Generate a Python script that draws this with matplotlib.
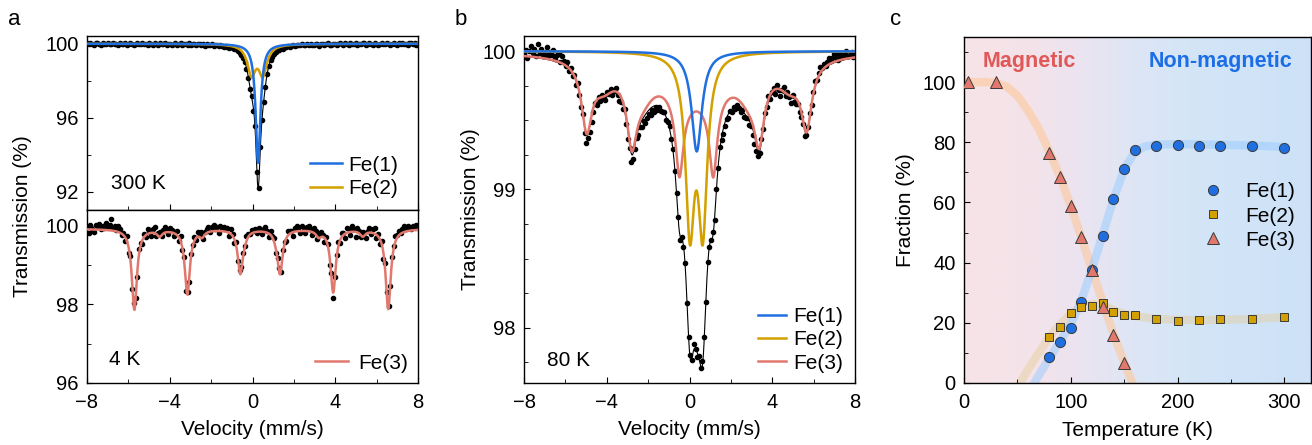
import numpy as np
import matplotlib
matplotlib.use("Agg")
import matplotlib.pyplot as plt
from matplotlib.colors import LinearSegmentedColormap
from matplotlib.ticker import MultipleLocator
from matplotlib.lines import Line2D

plt.rcParams['font.family'] = ['Liberation Sans', 'DejaVu Sans']
plt.rcParams['font.size'] = 15
plt.rcParams['axes.linewidth'] = 1.0
plt.rcParams['xtick.direction'] = 'in'
plt.rcParams['ytick.direction'] = 'in'
plt.rcParams['xtick.major.size'] = 4.5
plt.rcParams['ytick.major.size'] = 4.5
plt.rcParams['xtick.minor.size'] = 3
plt.rcParams['ytick.minor.size'] = 3
plt.rcParams['xtick.labelsize'] = 14.5
plt.rcParams['ytick.labelsize'] = 14.5
plt.rcParams['xtick.major.pad'] = 7
plt.rcParams['ytick.major.pad'] = 6

C_FE1 = '#1f6fe0'
C_FE2 = '#d4a000'
C_FE3 = '#e0786e'

# ---- Moessbauer fit parameters (mm/s, % absorption) ----
# 300 K
FE1_300K_POS = [0.27]
FE1_300K_DEPTH = [6.45]
FE1_300K_HW = [0.14]
FE2_300K_POS = [-0.05, 0.50]
FE2_300K_DEPTH = [1.57, 1.57]
FE2_300K_HW = [0.24, 0.24]
# 4 K
FE3_4K_BASE = 99.92
FE3_4K_POS = [-5.71, -3.15, -0.59, 1.33, 3.90, 6.56]
FE3_4K_DEPTH = [2.05, 1.65, 1.10, 1.10, 1.60, 2.03]
FE3_4K_HW = [0.15, 0.15, 0.15, 0.15, 0.15, 0.15]
FE3_4K_MINOR_POS = [-4.49, -2.44, -0.39, 1.14, 3.20, 5.33]
FE3_4K_MINOR_DEPTH = [0.15, 0.15, 0.10, 0.10, 0.15, 0.15]
FE3_4K_MINOR_HW = [0.15, 0.15, 0.15, 0.15, 0.15, 0.15]
# 80 K
FE1_80K_POS = [0.35]
FE1_80K_DEPTH = [0.725]
FE1_80K_HW = [0.30]
FE2_80K_POS = [0.02, 0.64]
FE2_80K_DEPTH = [1.22, 1.22]
FE2_80K_HW = [0.26, 0.26]
FE3_80K_POS = [-4.97, -2.79, -0.49, 1.15, 3.37, 5.66]
FE3_80K_DEPTH = [0.46, 0.44, 0.53, 0.53, 0.42, 0.45]
FE3_80K_HW = [0.30, 0.28, 0.22, 0.22, 0.28, 0.30]
FE3_80K_BROAD_POS = [-4.17, -2.32, -0.37, 1.03, 2.91, 4.86]
FE3_80K_BROAD_DEPTH = [0.17, 0.20, 0.12, 0.12, 0.20, 0.17]
FE3_80K_BROAD_HW = [0.70, 0.70, 0.70, 0.70, 0.70, 0.70]
FE3_80K_CENTER_POS = [0.33]
FE3_80K_CENTER_DEPTH = [0.20]
FE3_80K_CENTER_HW = [2.5]

# scatter of the measured points about the fit, in 0.01 %
RES_300K = [3, -2, 5, 0, -4, 2, 6, -1, -5, 3, 1, -3, 4, -2, 0, 5,
            -3, 2, -5, 4, 1, -2, 6, -4, 0, 3, -1, -6, 2, 5, -3, 1,
            4, -2, 0, -5, 3, 2, -4, 6, -1, -3, 5, 0, -2, 4, -6, 2,
            1, -4, 3, 5, -2, -1, 4, -5, 2, 0, -3, 6, -2, 1, 3, -4,
            0, 5, -3, 2, -6, 3, 1, -2, 4, -4, 2, -1, -5, 3, 0, -3,
            4, -2, -5, 1, -3, -4, 2, -4, -5, -3, -6, -4, -8, -10, -8, 6,
            -18, 15, -15, -10, 12, -6, -9, -7, -5, -6, -3, -5, -4, -2, 1, -3,
            2, -4, 3, -1, 5, -3, 0, 4, -5, 2, 1, -2, 6, -3, -1, 4,
            -2, 5, 0, -4, 3, 1, -6, 2, 4, -3, 0, 5, -2, -5, 3, 1,
            -4, 2, 6, -1, -3, 4, 0, -5, 3, 2, -2, 5, -4, 1, -1, 3,
            5, -3, 0, 4, -2, -6, 3, 1, -4, 2, 5, -1, -3, 4, 0, -5,
            2, 6, -2, -4, 3, 0, 5, -3, 1, -5, 4, 2, -1, 3, -4, 1]
RES_4K = [5, -8, 10, 2, -6, 12, 8, 15, 3, 10, 6, 18, 9, 14, 30, 7,
          12, 4, 16, 9, -4, 6, -10, 12, -15, 8, -20, 10, 5, -12, 14, 6,
          -10, 8, -6, 12, 3, -8, 10, 15, -5, 6, 12, -3, 8, 14, 4, -6,
          10, 6, -8, 4, 12, -10, 14, -6, 9, -25, 5, -12, 8, 3, 10, -5,
          12, 6, 15, -4, 8, 10, 14, -2, 12, 16, 5, 9, -6, 14, 8, 12,
          6, 10, -8, 12, 5, -10, 8, -12, 4, 10, 12, 6, 14, 8, 3, 10,
          5, 8, -4, 10, 6, -6, 8, 12, 4, -8, 10, 3, 9, -10, 6, 12,
          -8, 10, 5, -6, 12, 8, 4, -10, 9, 14, 6, -4, 12, 8, -6, 10,
          14, 5, -8, 12, 8, -5, 10, 12, 4, -10, 8, 6, -20, 10, -14, 6,
          8, 12, -6, 10, 4, -10, 12, 8, -8, 14, 6, -12, 10, 5, -6, 12,
          8, -10, 6, 12, -4, 10, 15, -8, 6, -12, 8, -18, 14, 10, 5, -4,
          10, 6, 14, 8, 12, 3, 10, 16, 6, 12, 9, 4, 11, 7, 13, 5]
RES_80K = [2, 5, -1, 4, 8, 3, 6, 1, 10, 4, 7, 2, 5, 9, 3, 6,
           4, 8, 2, 5, 7, 1, 6, 3, 0, 4, -1, 2, -2, 1, -3, 2,
           -1, -3, 1, -4, -6, -3, -5, -4, -2, 1, -3, 2, -1, 3, 0, -2,
           3, 1, 4, -1, 2, 4, 0, -3, -2, -4, 1, -3, -5, -2, -6, -4,
           -3, -1, -4, -2, -5, -3, -6, -4, -3, -5, -2, -4, -1, -3, 0, -2,
           -1, 1, -2, 0, 2, -1, 1, -2, 0, 2, -3, 1, -1, 2, -2, 1,
           3, -2, 4, 0, -3, 2, -1, 3, 1, -2, 2, -1, 0, 3, -2, 1,
           -1, 2, -2, -4, -3, -1, -3, 0, -2, 1, -1, 2, 0, -2, 1, -3,
           -2, 0, -3, -1, -4, -6, -5, -3, -1, 2, 0, 3, 1, 4, -1, 2,
           3, -2, 4, 1, -3, 2, 5, -1, 3, 0, -4, 2, -2, -3, -1, -4,
           -3, -2, -4, -1, 1, 3, 0, 2, 4, 1, 3, 5, 2, 4, 1, 3,
           5, 2, 4, 6, 3, 1, 5, 2, 4, 3, 6, 2, 3, 5, 1, 4]

# ---- Phase fractions vs temperature ----
T_FE1 = [80, 90, 100, 110, 120, 130, 140, 150, 160, 180, 200, 220, 240, 270, 300]
F_FE1 = [8.6, 13.6, 18.4, 26.8, 37.5, 48.8, 61.0, 71.1, 77.5, 78.8, 79.2, 78.9, 78.7, 78.7, 78.2]
T_FE2 = [80, 90, 100, 110, 120, 130, 140, 150, 160, 180, 200, 220, 240, 270, 300]
F_FE2 = [15.2, 18.5, 23.2, 25.1, 25.6, 26.5, 23.5, 22.6, 22.5, 21.2, 20.7, 20.8, 21.2, 21.2, 21.8]
T_FE3 = [4, 30, 80, 90, 100, 110, 120, 130, 140, 150]
F_FE3 = [100, 100, 76.4, 68.4, 58.7, 48.4, 37.5, 25.1, 16.0, 6.6]
# guide-to-the-eye curves
T_FE1_GUIDE = [64, 70, 80, 90, 100, 110, 120, 130, 140, 150, 160, 170, 180, 200, 220, 250, 280, 302]
F_FE1_GUIDE = [-1, 2.5, 8.3, 13.8, 19.5, 27.5, 38, 49.5, 61, 71, 76.8, 78.7, 79.2, 79.4, 79.3, 79.1, 78.8, 78.4]
T_FE2_GUIDE = [51, 60, 70, 80, 90, 100, 110, 120, 130, 140, 150, 160, 180, 200, 220, 240, 270, 302]
F_FE2_GUIDE = [-1, 4.5, 10, 15.3, 19.5, 23, 25.3, 26.3, 25.8, 24.2, 23, 22.2, 21.3, 21, 20.9, 21, 21.3, 21.9]
T_FE3_GUIDE = [0, 20, 30, 40, 50, 60, 70, 80, 90, 100, 110, 120, 130, 140, 150, 160]
F_FE3_GUIDE = [100, 100, 99.7, 98.5, 95.5, 90.5, 84.5, 76.8, 68.5, 58.8, 48.2, 37.5, 26.8, 16.3, 6.8, -2]


def absorb(v, pos, depth, hw):
    out = np.zeros_like(v)
    for p, d, g in zip(pos, depth, hw):
        out += d / (1 + ((v - p) / g) ** 2)
    return out


W, H = 1312, 445
fig = plt.figure(figsize=(W / 100, H / 100), dpi=100)


def px_axes(l, t, r, b):
    return fig.add_axes([l / W, 1 - b / H, (r - l) / W, (b - t) / H])


vf = np.linspace(-8, 8, 1601)
vc = np.linspace(-8, 8, len(RES_300K))
VEL_TICKS = [-8, -4, 0, 4, 8]
VEL_LABELS = ['\u22128', '\u22124', '0', '4', '8']

# ---------------- panel a: 300 K ----------------
ax1 = px_axes(87, 36, 418, 210)
fe1 = lambda v: absorb(v, FE1_300K_POS, FE1_300K_DEPTH, FE1_300K_HW)
fe2 = lambda v: absorb(v, FE2_300K_POS, FE2_300K_DEPTH, FE2_300K_HW)
ax1.plot(vc, 100 - fe1(vc) - fe2(vc) + np.array(RES_300K) * 0.01, 'o', color='k', ms=3, zorder=3)
ax1.plot(vf, 100 - fe1(vf) - fe2(vf), color='k', lw=0.8, zorder=2)
ax1.plot(vf, 100 - fe2(vf), color=C_FE2, lw=1.8, zorder=4)
ax1.plot(vf, 100 - fe1(vf), color=C_FE1, lw=1.8, zorder=5)
ax1.set_xlim(-8, 8)
ax1.set_ylim(91.0, 100.42)
ax1.set_yticks([92, 96, 100])
ax1.yaxis.set_minor_locator(MultipleLocator(2))
ax1.set_xticks(VEL_TICKS)
ax1.xaxis.set_minor_locator(MultipleLocator(2))
ax1.tick_params(labelbottom=False)
ax1.text(0.0725, 0.15, '300 K', transform=ax1.transAxes, va='center', ha='left')
h = [Line2D([], [], color=C_FE1, lw=1.8), Line2D([], [], color=C_FE2, lw=1.8)]
ax1.legend(h, ['Fe(1)', 'Fe(2)'], loc='lower right', bbox_to_anchor=(0.94, 0.07),
           frameon=False, borderpad=0, borderaxespad=0, handlelength=1.55,
           handletextpad=0.3, labelspacing=0.2)

# ---------------- panel a: 4 K ----------------
ax2 = px_axes(87, 210, 418, 383)
fe3 = lambda v: (absorb(v, FE3_4K_POS, FE3_4K_DEPTH, FE3_4K_HW)
                 + absorb(v, FE3_4K_MINOR_POS, FE3_4K_MINOR_DEPTH, FE3_4K_MINOR_HW))
ax2.plot(vc, FE3_4K_BASE - fe3(vc) + np.array(RES_4K) * 0.01, 'o', color='k', ms=3, zorder=3)
ax2.plot(vf, FE3_4K_BASE - fe3(vf), color=C_FE3, lw=1.8, zorder=4)
ax2.set_xlim(-8, 8)
ax2.set_ylim(96, 100.4)
ax2.set_yticks([96, 98, 100])
ax2.yaxis.set_minor_locator(MultipleLocator(1))
ax2.set_xticks(VEL_TICKS)
ax2.set_xticklabels(VEL_LABELS)
ax2.xaxis.set_minor_locator(MultipleLocator(2))
ax2.set_xlabel('Velocity (mm/s)', labelpad=6)
ax2.text(0.066, 0.135, '4 K', transform=ax2.transAxes, va='center', ha='left')
ax2.legend([Line2D([], [], color=C_FE3, lw=1.8)], ['Fe(3)'], loc='lower right',
           bbox_to_anchor=(0.97, 0.06), frameon=False, borderpad=0, borderaxespad=0,
           handlelength=1.55, handletextpad=0.5)
fig.text(23 / W, 1 - 216 / H, 'Transmission (%)', rotation=90, ha='center', va='center')

# ---------------- panel b: 80 K ----------------
ax3 = px_axes(524, 36, 855, 383)
g1 = lambda v: absorb(v, FE1_80K_POS, FE1_80K_DEPTH, FE1_80K_HW)
g2 = lambda v: absorb(v, FE2_80K_POS, FE2_80K_DEPTH, FE2_80K_HW)
g3 = lambda v: (absorb(v, FE3_80K_POS, FE3_80K_DEPTH, FE3_80K_HW)
                + absorb(v, FE3_80K_BROAD_POS, FE3_80K_BROAD_DEPTH, FE3_80K_BROAD_HW)
                + absorb(v, FE3_80K_CENTER_POS, FE3_80K_CENTER_DEPTH, FE3_80K_CENTER_HW))
ax3.plot(vc, 100 - g1(vc) - g2(vc) - g3(vc) + np.array(RES_80K) * 0.01, 'o', color='k', ms=3, zorder=3)
ax3.plot(vf, 100 - g1(vf) - g2(vf) - g3(vf), color='k', lw=0.8, zorder=2)
ax3.plot(vf, 100 - g3(vf), color=C_FE3, lw=1.8, zorder=4)
ax3.plot(vf, 100 - g2(vf), color=C_FE2, lw=1.8, zorder=5)
ax3.plot(vf, 100 - g1(vf), color=C_FE1, lw=1.8, zorder=6)
ax3.set_xlim(-8, 8)
ax3.set_ylim(97.6, 100.11)
ax3.set_yticks([98, 99, 100])
ax3.yaxis.set_minor_locator(MultipleLocator(0.25))
ax3.set_xticks(VEL_TICKS)
ax3.set_xticklabels(VEL_LABELS)
ax3.xaxis.set_minor_locator(MultipleLocator(2))
ax3.set_xlabel('Velocity (mm/s)', labelpad=6)
ax3.set_ylabel('Transmission (%)', labelpad=1.5)
ax3.text(0.0695, 0.066, '80 K', transform=ax3.transAxes, va='center', ha='left')
h = [Line2D([], [], color=c, lw=1.8) for c in (C_FE1, C_FE2, C_FE3)]
ax3.legend(h, ['Fe(1)', 'Fe(2)', 'Fe(3)'], loc='lower right', bbox_to_anchor=(0.965, 0.03),
           frameon=False, borderpad=0, borderaxespad=0, handlelength=1.35,
           handletextpad=0.35, labelspacing=0.2)

# ---------------- panel c: fractions ----------------
ax4 = px_axes(964, 37, 1311, 383)
bg = LinearSegmentedColormap.from_list('bg', [(0.0, '#f7e3e7'), (0.2, '#f3e3ea'),
                                              (0.35, '#eae4f1'), (0.5, '#dde6f5'),
                                              (0.65, '#d4e5f7'), (1.0, '#cde2f8')])
ax4.imshow(np.linspace(0, 1, 256)[None, :], extent=[0, 325, 0, 115], aspect='auto',
           cmap=bg, zorder=0)
ax4.plot(T_FE3_GUIDE, F_FE3_GUIDE, color='#ffc594', lw=6, alpha=0.55,
         solid_capstyle='butt', zorder=1)
ax4.plot(T_FE2_GUIDE, F_FE2_GUIDE, color='#e6c98c', lw=6, alpha=0.4,
         solid_capstyle='butt', zorder=1)
ax4.plot(T_FE1_GUIDE, F_FE1_GUIDE, color='#96cbff', lw=6, alpha=0.5,
         solid_capstyle='butt', zorder=1)
ax4.plot(T_FE1, F_FE1, 'o', ms=7.3, mfc=C_FE1, mec='#3a3a3a', mew=0.7, zorder=4, label='Fe(1)')
ax4.plot(T_FE2, F_FE2, 's', ms=6.3, mfc=C_FE2, mec='#3a3a3a', mew=0.7, zorder=4, label='Fe(2)')
ax4.plot(T_FE3, F_FE3, '^', ms=8.3, mfc=C_FE3, mec='#3a3a3a', mew=0.7, zorder=5, label='Fe(3)')
ax4.set_xlim(0, 325)
ax4.set_ylim(0, 115)
ax4.set_xticks([0, 100, 200, 300])
ax4.xaxis.set_minor_locator(MultipleLocator(50))
ax4.set_yticks([0, 20, 40, 60, 80, 100])
ax4.yaxis.set_minor_locator(MultipleLocator(10))
ax4.set_xlabel('Temperature (K)', labelpad=7)
ax4.set_ylabel('Fraction (%)', labelpad=5)
ax4.text(61, 107, 'Magnetic', color='#e05858', fontsize=15.5, fontweight='bold',
         ha='center', va='center', zorder=6)
ax4.text(308, 107, 'Non-magnetic', color='#1c6ee6', fontsize=15.5, fontweight='bold',
         ha='right', va='center', zorder=6)
ax4.legend(loc='lower right', bbox_to_anchor=(0.955, 0.385), frameon=False,
           borderpad=0, borderaxespad=0, handlelength=1.5, handletextpad=0.8,
           labelspacing=0.25)

for lab, x in (('a', 8), ('b', 455), ('c', 890)):
    fig.text(x / W, 1 - 25 / H, lab, fontsize=16, ha='left', va='baseline')

fig.savefig('out.png', dpi=100)
